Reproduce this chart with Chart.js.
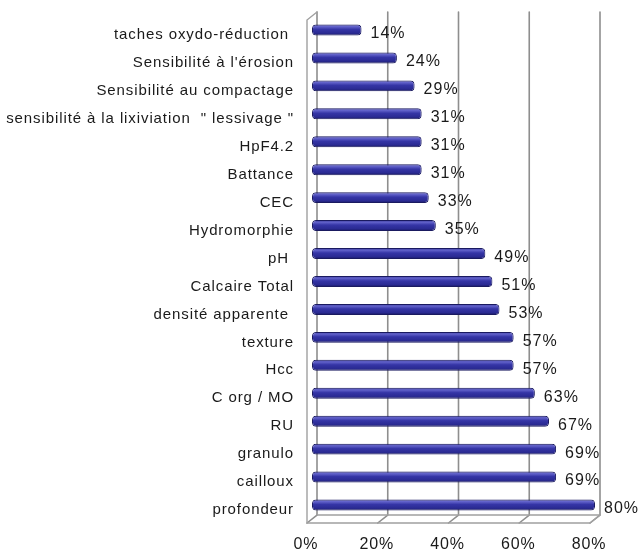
<!DOCTYPE html>
<html><head><meta charset="utf-8">
<script src="https://cdn.jsdelivr.net/npm/chart.js@4"></script>
<style>html,body{margin:0;padding:0;background:#fff}#wrap{width:642px;height:553px;position:relative}</style>
</head><body><div id="wrap"><canvas id="c"></canvas></div>
<script>
const categories = ["taches oxydo-réduction ","Sensibilité à l'érosion","Sensibilité au compactage","sensibilité à la lixiviation  \" lessivage \"","HpF4.2","Battance","CEC","Hydromorphie","pH ","Calcaire Total","densité apparente ","texture","Hcc","C org / MO","RU","granulo","cailloux","profondeur"];
const values = [14,24,29,31,31,31,33,35,49,51,53,57,57,63,67,69,69,80];
const xTicks = [0,20,40,60,80];

const FONT = '"Liberation Sans", Arial, sans-serif';
const DEPTH_X = 5, DEPTH_Y = 4;

const spacingPlugin = {
  id:'spacing',
  beforeDraw(chart){ chart.ctx.letterSpacing = '0.9px'; }
};

const framePlugin = {
  id:'frame3d',
  beforeDatasetsDraw(chart){
    const ctx = chart.ctx, xs = chart.scales.x, a = chart.chartArea;
    const backTop = a.top - DEPTH_Y, frontTop = a.top + DEPTH_Y;
    const backBot = a.bottom - DEPTH_Y, frontBot = a.bottom + DEPTH_Y;
    const x0 = xs.getPixelForValue(0), x80 = xs.getPixelForValue(80);
    ctx.save();
    ctx.lineCap = 'round';
    ctx.strokeStyle = '#8e8e8e'; ctx.lineWidth = 1.6;
    xTicks.forEach(v=>{
      const p = xs.getPixelForValue(v);
      ctx.beginPath();
      ctx.moveTo(p+DEPTH_X, backTop);
      ctx.lineTo(p+DEPTH_X, backBot);
      ctx.lineTo(p-DEPTH_X, frontBot);
      ctx.stroke();
    });
    ctx.strokeStyle = '#a0a0a0'; ctx.lineWidth = 1.4;
    ctx.beginPath();
    ctx.moveTo(x0+DEPTH_X, backTop);
    ctx.lineTo(x0-DEPTH_X, frontTop);
    ctx.lineTo(x0-DEPTH_X, frontBot);
    ctx.lineTo(x80-DEPTH_X, frontBot);
    ctx.lineTo(x80+DEPTH_X, backBot);
    ctx.stroke();
    ctx.beginPath();
    ctx.moveTo(x0+DEPTH_X, backBot);
    ctx.lineTo(x80+DEPTH_X, backBot);
    ctx.stroke();
    ctx.restore();
    const meta = chart.getDatasetMeta(0);
    meta.data.forEach(el=>{
      const h = el.height, t = el.y - h/2;
      const g = ctx.createLinearGradient(0, t, 0, t+h);
      g.addColorStop(0, '#2a2a86');
      g.addColorStop(0.18, '#6464cc');
      g.addColorStop(0.45, '#3535a6');
      g.addColorStop(0.8, '#2a2a92');
      g.addColorStop(1, '#16165a');
      el.options = Object.assign({}, el.options, {backgroundColor: g});
    });
  }
};

const labelPlugin = {
  id:'barLabels',
  afterDatasetsDraw(chart){
    const ctx = chart.ctx;
    const meta = chart.getDatasetMeta(0);
    ctx.save();
    ctx.letterSpacing = '1px';
    ctx.font = '16px ' + FONT;
    ctx.fillStyle = '#1a1a1a';
    ctx.textBaseline = 'middle';
    ctx.textAlign = 'left';
    meta.data.forEach((el,i)=>{
      ctx.fillText(values[i]+'%', el.x+9, el.y+4);
    });
    ctx.restore();
  }
};

new Chart(document.getElementById('c'),{
  type:'bar',
  data:{labels:categories,datasets:[{data:values,backgroundColor:'#33339c',borderColor:'#1a1a60',borderWidth:1,borderRadius:4,borderSkipped:false,barPercentage:0.8,categoryPercentage:0.49}]},
  options:{
    indexAxis:'y',responsive:true,maintainAspectRatio:false,animation:false,
    layout:{padding:{top:16,right:47,left:0,bottom:0}},
    plugins:{legend:{display:false},tooltip:{enabled:false}},
    scales:{
      x:{min:0,max:80,
        afterBuildTicks(s){s.ticks=xTicks.map(v=>({value:v}));},
        afterFit(s){s.height=34;s.paddingLeft=0;s.paddingRight=0;},
        grid:{display:false,drawTicks:false},
        border:{display:false},
        ticks:{padding:16,labelOffset:-6,color:'#1a1a1a',font:{size:16,family:FONT},callback:v=>v+'%'}
      },
      y:{
        afterFit(s){s.width=312;s.paddingTop=0;s.paddingBottom=0;},
        grid:{display:false,drawTicks:false},
        border:{display:false},
        ticks:{padding:18,labelOffset:5,color:'#1a1a1a',font:{size:15,family:FONT},autoSkip:false}
      }
    }
  },
  plugins:[spacingPlugin,framePlugin,labelPlugin]
});
</script></body></html>
